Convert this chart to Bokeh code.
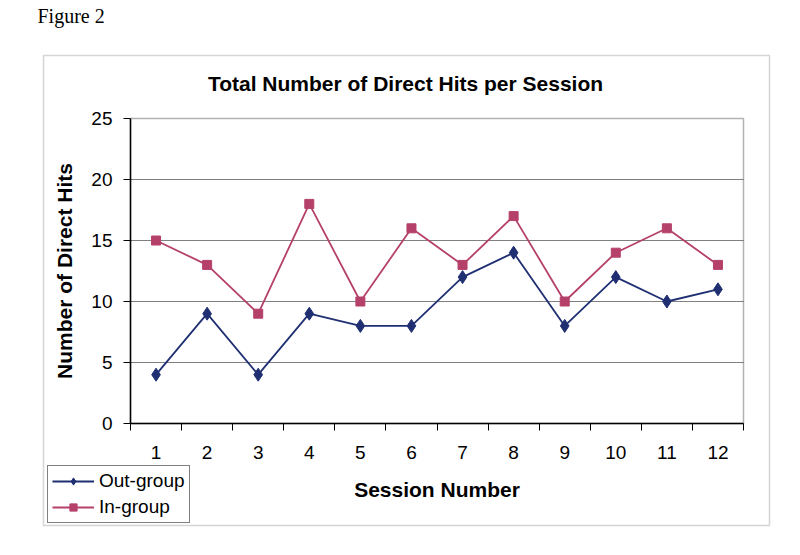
from bokeh.plotting import figure
from bokeh.models import (FixedTicker, Label, BoxAnnotation, Legend, LegendItem, Range1d)
from bokeh.embed import file_html
from bokeh.resources import INLINE

sessions = [1, 2, 3, 4, 5, 6, 7, 8, 9, 10, 11, 12]
out_group = [4, 9, 4, 9, 8, 8, 12, 14, 8, 12, 10, 11]
in_group = [15, 13, 9, 18, 10, 16, 13, 17, 10, 14, 16, 13]
y_ticks = [0, 5, 10, 15, 20, 25]

NAVY = "#1f2f72"
PINK = "#b5406a"
FONT = "Liberation Sans"

# ---- layout geometry (page pixels, origin top-left) ----
W, H = 800, 555
BOX_L, BOX_R, BOX_T, BOX_B = 43, 769, 55, 525          # outer chart box
PA_L, PA_R, PA_T, PA_B = 130, 743, 118, 423            # plot area

x_lo, x_hi = sessions[0] - 0.5, sessions[-1] + 0.5
y_lo, y_hi = y_ticks[0], y_ticks[-1]

kx = (PA_R - PA_L) / (x_hi - x_lo)
ky = (PA_B - PA_T) / (y_hi - y_lo)
x0 = x_lo - PA_L / kx
x1 = x_hi + (W - PA_R) / kx
y0 = y_lo - (H - PA_B) / ky
y1 = y_hi + PA_T / ky


def px_x(px):
    return x0 + px / kx


def px_y(py):
    return y0 + (H - py) / ky


p = figure(width=W, height=H, output_backend="svg", toolbar_location=None,
           x_range=Range1d(x0, x1), y_range=Range1d(y0, y1),
           min_border=0, title=None)
p.background_fill_color = "white"
p.border_fill_color = "white"
p.outline_line_color = None

# outer chart box
outer = BoxAnnotation(left=px_x(BOX_L), right=px_x(BOX_R),
                      top=px_y(BOX_T), bottom=px_y(BOX_B),
                      fill_alpha=0, line_color="#747474", line_width=1.5,
                      level="underlay")
p.add_layout(outer)

# ---- axes drawn at the plot-area edges ----
xa = p.xaxis[0]
xa.fixed_location = y_lo
xa.bounds = (x_lo, x_hi)
xa.ticker = FixedTicker(ticks=sessions, minor_ticks=[s - 0.5 for s in sessions] + [x_hi])
xa.major_tick_out = 0
xa.major_tick_in = 0
xa.minor_tick_out = 7
xa.minor_tick_in = 0
xa.minor_tick_line_color = "black"
xa.axis_line_color = "black"
xa.axis_line_width = 1.5
xa.major_label_standoff = 15
xa.major_label_text_font = FONT
xa.major_label_text_font_size = "19px"
xa.major_label_text_color = "black"
xa.axis_label = "Session Number"
xa.axis_label_text_font = FONT
xa.axis_label_text_font_style = "bold"
xa.axis_label_text_font_size = "21px"
xa.axis_label_text_color = "black"
xa.axis_label_standoff = 16

ya = p.yaxis[0]
ya.fixed_location = x_lo
ya.bounds = (y_lo, y_hi)
ya.ticker = FixedTicker(ticks=y_ticks, minor_ticks=[])
ya.major_tick_out = 7
ya.major_tick_in = 0
ya.major_tick_line_color = "black"
ya.axis_line_color = "black"
ya.axis_line_width = 1.5
ya.major_label_standoff = 11
ya.major_label_text_font = FONT
ya.major_label_text_font_size = "19px"
ya.major_label_text_color = "black"
ya.axis_label = "Number of Direct Hits"
ya.axis_label_text_font = FONT
ya.axis_label_text_font_style = "bold"
ya.axis_label_text_font_size = "21px"
ya.axis_label_text_color = "black"
ya.axis_label_standoff = 12

p.xgrid.grid_line_color = None
p.ygrid.ticker = FixedTicker(ticks=y_ticks[1:-1], minor_ticks=[])
p.ygrid.grid_line_color = "#808080"
p.ygrid.grid_line_width = 1
p.ygrid.cross_bounds = (x_lo, x_hi)

# plot-area border
pa_box = BoxAnnotation(left=x_lo, right=x_hi, bottom=y_lo, top=y_hi,
                       fill_alpha=0, line_color="black", line_width=1.5,
                       level="underlay")
p.add_layout(pa_box)

# ---- series ----
l1 = p.line(sessions, out_group, line_color=NAVY, line_width=1.8)
m1 = p.scatter(sessions, out_group, marker="diamond", size=13,
               fill_color=NAVY, line_color=NAVY)
l2 = p.line(sessions, in_group, line_color=PINK, line_width=1.8)
m2 = p.scatter(sessions, in_group, marker="square", size=9,
               fill_color=PINK, line_color=PINK)

# ---- texts ----
fig_label = Label(x=px_x(37), y=px_y(15), text="Figure 2",
                  text_font="Liberation Serif", text_font_size="20px",
                  text_align="left", text_baseline="middle", text_color="black")
p.add_layout(fig_label)

title = Label(x=px_x(405), y=px_y(83),
              text="Total Number of Direct Hits per Session",
              text_font=FONT, text_font_style="bold", text_font_size="21px",
              text_align="center", text_baseline="middle", text_color="black")
p.add_layout(title)

# ---- legend ----
legend = Legend(items=[LegendItem(label="Out-group", renderers=[l1, m1]),
                       LegendItem(label="In-group", renderers=[l2, m2])],
                location=(47, H - 523))
legend.label_text_font = FONT
legend.label_text_font_size = "19px"
legend.label_text_color = "black"
legend.glyph_width = 42
legend.glyph_height = 18
legend.label_height = 18
legend.spacing = 4
legend.padding = 4
legend.margin = 0
legend.label_standoff = 5
legend.border_line_color = "black"
legend.border_line_width = 1
legend.background_fill_alpha = 1
p.add_layout(legend, "center")

open("out.html", "w").write(file_html(p, INLINE))
